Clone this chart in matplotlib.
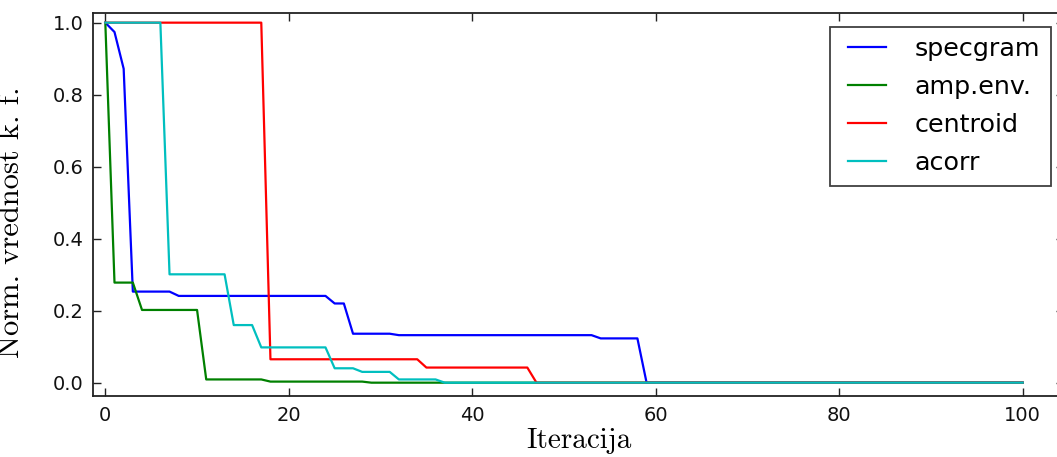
import matplotlib
matplotlib.use("Agg")
import matplotlib.pyplot as plt
from matplotlib.legend_handler import HandlerLine2D

iterations = list(range(101))

specgram = ([1.0, 0.974, 0.872]
            + [0.253] * 5
            + [0.241] * 17
            + [0.220] * 2
            + [0.136] * 5
            + [0.132] * 22
            + [0.123] * 5
            + [0.0] * 42)

amp_env = ([1.0]
           + [0.278] * 3
           + [0.202] * 7
           + [0.009] * 7
           + [0.003] * 11
           + [0.0] * 72)

centroid = ([1.0] * 18
            + [0.065] * 17
            + [0.042] * 12
            + [0.0] * 54)

acorr = ([1.0] * 7
         + [0.301] * 7
         + [0.160] * 3
         + [0.098] * 8
         + [0.040] * 3
         + [0.030] * 4
         + [0.009] * 5
         + [0.0] * 64)

series_labels = ["specgram", "amp.env.", "centroid", "acorr"]
series_colors = ["#0000ff", "#008000", "#ff0000", "#00bfbf"]
x_ticks = [0, 20, 40, 60, 80, 100]
y_ticks = [0.0, 0.2, 0.4, 0.6, 0.8, 1.0]


class InsetLineHandler(HandlerLine2D):
    """Legend line drawn in the right part of its handle box, leaving a left margin."""

    def __init__(self, inset_pt, **kw):
        super().__init__(**kw)
        self.inset_pt = inset_pt

    def get_xdata(self, legend, xdescent, ydescent, width, height, fontsize):
        xdata = [-xdescent + self.inset_pt, -xdescent + width]
        return xdata, [-xdescent + 0.5 * (self.inset_pt + width)]


W, H = 1057, 457
fig = plt.figure(figsize=(W / 100, H / 100), dpi=100)
left, right, top, bottom = 93.3, 1064.0, 13.3, 396.0
ax = fig.add_axes([left / W, 1 - bottom / H, (right - left) / W, (bottom - top) / H])

lines = []
for values, label, color in zip([specgram, amp_env, centroid, acorr],
                                series_labels, series_colors):
    ln, = ax.plot(iterations, values, color=color, lw=1.6, label=label)
    lines.append(ln)

ax.set_xlim(-1.31, 104.5)
ax.set_ylim(-0.037, 1.026)
ax.set_xticks(x_ticks)
ax.set_yticks(y_ticks)
ax.set_xticklabels([str(t) for t in x_ticks])
ax.set_yticklabels([f"{t:.1f}" for t in y_ticks])

ax.tick_params(direction="in", top=True, right=True, length=6, width=1,
               labelsize=14, pad=7, colors="#222222", labelcolor="#111111")
for sp in ax.spines.values():
    sp.set_linewidth(1.3)
    sp.set_color("#222222")

ax.set_xlabel("Iteracija", fontfamily="cmr10", fontsize=21, labelpad=2)
ax.set_ylabel("Norm. vrednost k. f.", fontfamily="cmr10", fontsize=22)
ax.yaxis.set_label_coords(-0.070, 0.455)

handler = InsetLineHandler(5.3)
leg = ax.legend(loc="upper right", bbox_to_anchor=(1051 / W, 1 - 26.7 / H),
                bbox_transform=fig.transFigure, borderaxespad=0,
                fontsize=18.3, fancybox=False, handlelength=1.78,
                handletextpad=1.13, labelspacing=0.55, borderpad=0.42,
                handler_map={ln: handler for ln in lines})
leg.get_frame().set_edgecolor("#111111")
leg.get_frame().set_linewidth(1.3)

fig.savefig("out.png", dpi=100)
